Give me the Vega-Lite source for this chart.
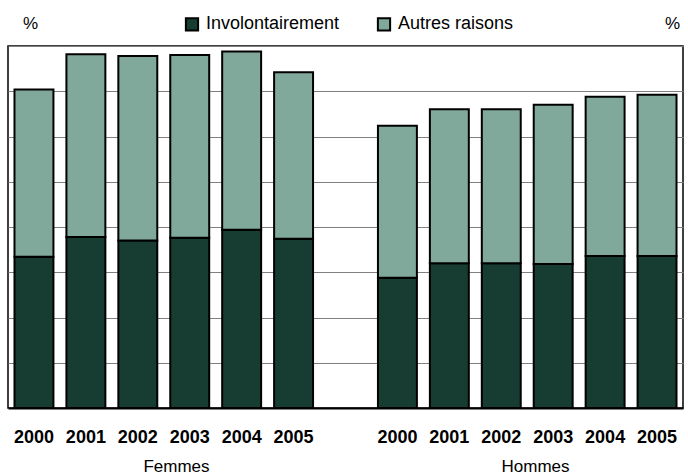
{
  "$schema": "https://vega.github.io/schema/vega-lite/v6.json",
  "width": 675,
  "height": 362,
  "autosize": {"type": "none"},
  "padding": {"left": 8, "top": 46, "right": 5, "bottom": 67},
  "background": "white",
  "config": {
    "font": "Liberation Sans",
    "view": {"stroke": "#000000", "strokeWidth": 1.5}
  },
  "layer": [
    {
      "data": {
        "values": [
          {"key": "F2000", "cause": "Involontairement", "value": 16.7},
          {"key": "F2000", "cause": "Autres raisons", "value": 18.5},
          {"key": "F2001", "cause": "Involontairement", "value": 18.9},
          {"key": "F2001", "cause": "Autres raisons", "value": 20.2},
          {"key": "F2002", "cause": "Involontairement", "value": 18.5},
          {"key": "F2002", "cause": "Autres raisons", "value": 20.4},
          {"key": "F2003", "cause": "Involontairement", "value": 18.8},
          {"key": "F2003", "cause": "Autres raisons", "value": 20.2},
          {"key": "F2004", "cause": "Involontairement", "value": 19.7},
          {"key": "F2004", "cause": "Autres raisons", "value": 19.7},
          {"key": "F2005", "cause": "Involontairement", "value": 18.7},
          {"key": "F2005", "cause": "Autres raisons", "value": 18.4},
          {"key": "H2000", "cause": "Involontairement", "value": 14.4},
          {"key": "H2000", "cause": "Autres raisons", "value": 16.8},
          {"key": "H2001", "cause": "Involontairement", "value": 16.0},
          {"key": "H2001", "cause": "Autres raisons", "value": 17.0},
          {"key": "H2002", "cause": "Involontairement", "value": 16.0},
          {"key": "H2002", "cause": "Autres raisons", "value": 17.0},
          {"key": "H2003", "cause": "Involontairement", "value": 15.9},
          {"key": "H2003", "cause": "Autres raisons", "value": 17.6},
          {"key": "H2004", "cause": "Involontairement", "value": 16.8},
          {"key": "H2004", "cause": "Autres raisons", "value": 17.6},
          {"key": "H2005", "cause": "Involontairement", "value": 16.8},
          {"key": "H2005", "cause": "Autres raisons", "value": 17.8}
        ]
      },
      "mark": {"type": "bar", "stroke": "#000000", "strokeWidth": 2, "opacity": 1},
      "encoding": {
        "x": {
          "field": "key",
          "type": "nominal",
          "scale": {
            "domain": ["F2000", "F2001", "F2002", "F2003", "F2004", "F2005", "gap", "H2000", "H2001", "H2002", "H2003", "H2004", "H2005"],
            "paddingInner": 0.25,
            "paddingOuter": 0.125
          },
          "axis": {
            "title": null,
            "labelExpr": "datum.value == 'gap' ? '' : slice(datum.value, 1)",
            "labelAngle": 0,
            "labelFontWeight": "bold",
            "labelFontSize": 18,
            "labelColor": "#000000",
            "labelPadding": 20,
            "ticks": false,
            "tickSize": 0,
            "domainColor": "#000000",
            "domainWidth": 2,
            "grid": false
          }
        },
        "y": {
          "field": "value",
          "type": "quantitative",
          "stack": "zero",
          "scale": {"domain": [0, 40], "nice": false},
          "axis": {
            "values": [0, 5, 10, 15, 20, 25, 30, 35, 40],
            "grid": true,
            "gridColor": "#808080",
            "gridWidth": 1,
            "labels": false,
            "ticks": false,
            "domain": false,
            "title": "%",
            "titleAngle": 0,
            "titleX": 22,
            "titleY": -23,
            "titleAlign": "center",
            "titleBaseline": "middle",
            "titleFontSize": 17,
            "titleFontWeight": "normal",
            "titleColor": "#000000"
          }
        },
        "color": {
          "field": "cause",
          "type": "nominal",
          "sort": ["Involontairement", "Autres raisons"],
          "scale": {
            "domain": ["Involontairement", "Autres raisons"],
            "range": ["#173d33", "#80a99b"]
          },
          "legend": {
            "title": null,
            "orient": "none",
            "direction": "horizontal",
            "legendX": 175,
            "legendY": -31,
            "symbolType": "square",
            "symbolSize": 150,
            "symbolStrokeColor": "#000000",
            "symbolStrokeWidth": 2,
            "symbolOpacity": 1,
            "labelFontSize": 18,
            "labelColor": "#000000",
            "labelOffset": 5,
            "columnPadding": 33
          }
        }
      }
    },
    {
      "data": {"values": [{"group": "Femmes"}, {"group": "Hommes"}]},
      "mark": {"type": "tick", "opacity": 0},
      "encoding": {
        "x": {
          "field": "group",
          "type": "nominal",
          "scale": {"type": "point", "padding": 0.44},
          "axis": {
            "title": null,
            "orient": "bottom",
            "labelAngle": 0,
            "labelFontSize": 17,
            "labelColor": "#000000",
            "labelPadding": 50,
            "labelOffset": 10,
            "ticks": false,
            "tickSize": 0,
            "domain": false,
            "grid": false
          }
        },
        "y": {
          "datum": 0,
          "type": "quantitative",
          "axis": {
            "orient": "right",
            "grid": false,
            "labels": false,
            "ticks": false,
            "domain": false,
            "title": "%",
            "titleAngle": 0,
            "titleX": -11,
            "titleY": -23,
            "titleAlign": "center",
            "titleBaseline": "middle",
            "titleFontSize": 17,
            "titleFontWeight": "normal",
            "titleColor": "#000000"
          }
        }
      }
    }
  ],
  "resolve": {"scale": {"x": "independent"}, "axis": {"y": "independent"}}
}
